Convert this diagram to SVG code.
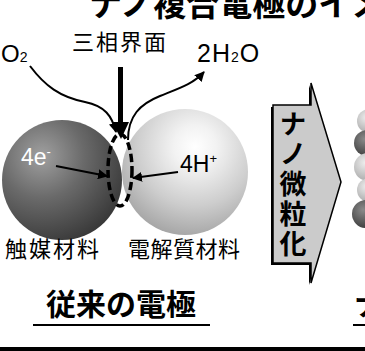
<svg xmlns="http://www.w3.org/2000/svg" width="365" height="351" viewBox="0 0 365 351">
  <defs>
    <radialGradient id="catalyst" cx="0.33" cy="0.3" r="0.78">
      <stop offset="0" stop-color="#a0a0a0"/>
      <stop offset="0.45" stop-color="#6a6a6a"/>
      <stop offset="1" stop-color="#363636"/>
    </radialGradient>
    <radialGradient id="electrolyte" cx="0.58" cy="0.3" r="0.78">
      <stop offset="0" stop-color="#ffffff"/>
      <stop offset="0.22" stop-color="#f2f2f2"/>
      <stop offset="0.6" stop-color="#cdcdcd"/>
      <stop offset="1" stop-color="#9c9c9c"/>
    </radialGradient>
    <radialGradient id="nanoLight" cx="0.4" cy="0.35" r="0.7">
      <stop offset="0" stop-color="#eeeeee"/>
      <stop offset="1" stop-color="#a8a8a8"/>
    </radialGradient>
    <radialGradient id="nanoDark" cx="0.4" cy="0.35" r="0.7">
      <stop offset="0" stop-color="#8a8a8a"/>
      <stop offset="1" stop-color="#3c3c3c"/>
    </radialGradient>
    <marker id="head" viewBox="0 0 10 10" refX="9" refY="5" markerWidth="5" markerHeight="5" orient="auto" markerUnits="strokeWidth">
      <path d="M0,0 L10,5 L0,10 z" fill="#000"/>
    </marker>
  </defs>
  <style>
    .jp { font-family: "Noto Sans CJK JP", sans-serif; fill: #000; }
    .lat { font-family: "Liberation Sans", Arial, sans-serif; fill: #000; }
    .flow { fill: none; stroke: #000; stroke-width: 2; }
  </style>

  <rect width="365" height="351" fill="#fff"/>

  <!-- heading -->
  <text class="jp" x="89" y="16" font-size="33" font-weight="bold">ナノ複合電極のイメ</text>

  <!-- particles -->
  <g id="electrolyte-particle">
    <circle cx="185" cy="172" r="63" fill="url(#electrolyte)"/>
  </g>
  <g id="catalyst-particle">
    <circle cx="62" cy="180" r="60" fill="url(#catalyst)"/>
  </g>
  <g id="interface">
    <ellipse cx="120" cy="170" rx="12" ry="36" fill="none" stroke="#000" stroke-width="3.5" stroke-dasharray="8 4"/>
  </g>

  <!-- nano particles at right edge -->
  <g id="nano-particles">
    <circle cx="369" cy="121" r="12" fill="url(#nanoLight)"/>
    <circle cx="367" cy="143" r="13" fill="url(#nanoDark)"/>
    <circle cx="368" cy="167" r="14" fill="url(#nanoLight)"/>
    <circle cx="369" cy="190" r="12" fill="url(#nanoLight)"/>
    <circle cx="366" cy="214" r="14" fill="url(#nanoDark)"/>
  </g>

  <!-- labels -->
  <g id="label-o2">
    <text class="lat" x="1" y="62" font-size="24">O<tspan font-size="14">2</tspan></text>
  </g>
  <g id="label-tpb">
    <text class="jp" x="72" y="50" font-size="22" letter-spacing="2">三相界面</text>
  </g>
  <g id="label-h2o">
    <text class="lat" x="197" y="62" font-size="25" letter-spacing="1">2H<tspan font-size="14">2</tspan>O</text>
  </g>
  <g id="label-4e">
    <text class="lat" x="21" y="165" font-size="23" style="fill:#fff">4e<tspan font-size="13" dy="-9">-</tspan></text>
  </g>
  <g id="label-4h">
    <text class="lat" x="180" y="172" font-size="23">4H<tspan font-size="13" dy="-9">+</tspan></text>
  </g>
  <g id="label-catalyst">
    <text class="jp" x="5" y="257" font-size="22" letter-spacing="2">触媒材料</text>
  </g>
  <g id="label-electrolyte">
    <text class="jp" x="128" y="257" font-size="22" letter-spacing="0.5">電解質材料</text>
  </g>

  <!-- connectors -->
  <g id="connectors">
    <path class="flow" d="M30,66 C45,86 60,97 85,102 C105,106 112,116 116,132" marker-end="url(#head)"/>
    <path class="flow" d="M128,140 C128,116 140,104 160,96 C180,88 193,84 204,72" marker-end="url(#head)"/>
    <line x1="120.5" y1="67" x2="120.5" y2="124" stroke="#000" stroke-width="5"/>
    <polygon points="112,122 129,122 121,139" fill="#000"/>
    <line class="flow" x1="56" y1="166" x2="107" y2="176" marker-end="url(#head)"/>
    <line class="flow" x1="178" y1="172" x2="133" y2="178" marker-end="url(#head)"/>
  </g>

  <!-- nano-sizing block arrow -->
  <g id="nano-arrow">
    <polygon points="271,107 309,107 309,85 339,184 309,285 309,265 271,265" fill="#000"/>
    <polygon points="273,105 311,105 311,83 341,182 311,283 311,263 273,263" fill="#cbcbcb" stroke="#000" stroke-width="1.5"/>
    <text class="jp" x="293" y="110" font-size="27" font-weight="bold" writing-mode="vertical-rl" letter-spacing="3">ナノ微粒化</text>
  </g>

  <!-- captions -->
  <g id="caption-conventional">
    <text class="jp" x="46" y="315" font-size="30" font-weight="bold">従来の電極</text>
    <line x1="33" y1="325" x2="210" y2="325" stroke="#000" stroke-width="2"/>
  </g>
  <g id="caption-nano">
    <text class="jp" x="354" y="315" font-size="30" font-weight="bold">ナ</text>
    <line x1="353" y1="325" x2="365" y2="325" stroke="#000" stroke-width="2"/>
  </g>

  <rect x="0" y="347" width="365" height="4" fill="#000"/>
</svg>
